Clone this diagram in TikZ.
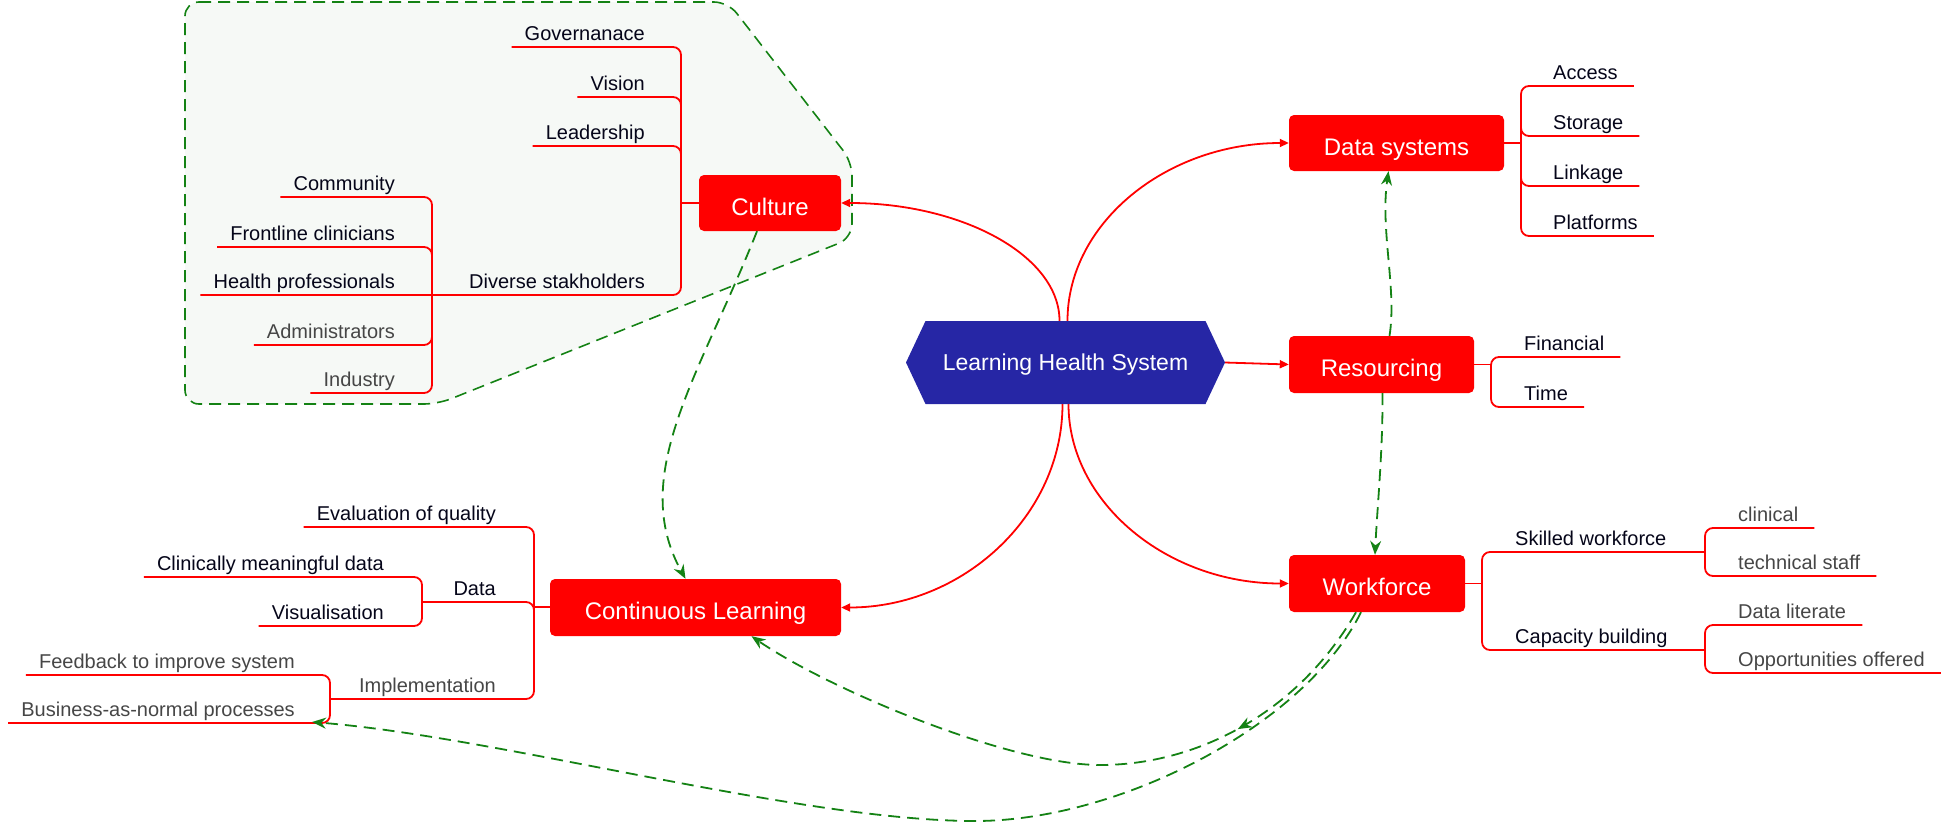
\documentclass[tikz,border=0pt]{standalone}
\usepackage{fontspec}
\setmainfont{Liberation Sans}
\usetikzlibrary{arrows.meta,calc,decorations.markings}
\definecolor{boxred}{RGB}{255,0,0}
\definecolor{hexblue}{RGB}{38,38,165}
\definecolor{dgreen}{RGB}{20,130,20}
\definecolor{regionfill}{RGB}{246,249,246}
\definecolor{leafblack}{RGB}{5,5,25}
\definecolor{leafgray}{RGB}{70,70,70}
\begin{document}
\begin{tikzpicture}[x=1pt,y=-1pt,
  box/.style={fill=boxred, rounded corners=5pt, text=white, font=\fontsize{24}{28}\selectfont, minimum height=56pt, inner sep=0pt, text height=24pt, text depth=0pt},
  leaf/.style={inner sep=0pt, text=leafblack, font=\fontsize{20}{24}\selectfont},
  leafg/.style={leaf, text=leafgray},
  br/.style={draw=boxred, line width=1.8pt, rounded corners=8pt},
  link/.style={draw=boxred, line width=1.8pt, -{Triangle[length=9pt,width=8pt]}},
  gdash/.style={draw=dgreen, line width=1.8pt, dash pattern=on 12pt off 7pt, -{Stealth[length=14pt,width=11pt]}},
]
\useasboundingbox (0,0) rectangle (1946,825);

% culture region
\draw[dgreen, line width=1.6pt, dash pattern=on 12pt off 7pt, fill=regionfill, rounded corners=14pt]
  (185,2) -- (728,2) -- (852,162) -- (852,238) -- (438,404) -- (185,404) -- cycle;

% central hexagon
\fill[hexblue] (906,362.5) -- (925.5,321) -- (1205.5,321) -- (1225,362.5) -- (1205.5,404) -- (925.5,404) -- cycle;
\node[text=white, font=\fontsize{23}{27}\selectfont, minimum width=280pt, minimum height=83pt, inner sep=0pt, text height=18pt, text depth=2pt] (lhs) at (1065.5,362.5) {Learning Health System};
\coordinate (lhsE) at (1225,362.5);

% ---------- leaves: Culture ----------
\node[leaf, anchor=base east] (gov) at (645,40) {Governanace};
\node[leaf, anchor=base east] (vis) at (645,90) {Vision};
\node[leaf, anchor=base east] (lead) at (645,139) {Leadership};
\node[leaf, anchor=base east] (divs) at (645,288) {Diverse stakholders};
\node[leaf, anchor=base east] (com) at (395,190) {Community};
\node[leaf, anchor=base east] (fro) at (395,240) {Frontline clinicians};
\node[leaf, anchor=base east] (hp) at (395,288) {Health professionals};
\node[leafg, anchor=base east] (adm) at (395,338) {Administrators};
\node[leafg, anchor=base east] (ind) at (395,386) {Industry};

% ---------- leaves: Continuous Learning ----------
\node[leaf, anchor=base east] (eva) at (496,520) {Evaluation of quality};
\node[leaf, anchor=base east] (dat) at (496,595) {Data};
\node[leafg, anchor=base east] (imp) at (496,692) {Implementation};
\node[leaf, anchor=base east] (cmd) at (384,570) {Clinically meaningful data};
\node[leaf, anchor=base east] (visu) at (384,619) {Visualisation};
\node[leafg, anchor=base east] (fb) at (295,668) {Feedback to improve system};
\node[leafg, anchor=base east] (bnp) at (295,716) {Business-as-normal processes};

% ---------- leaves: Data systems ----------
\node[leaf, anchor=base west] (acc) at (1553,79) {Access};
\node[leaf, anchor=base west] (sto) at (1553,129) {Storage};
\node[leaf, anchor=base west] (lnk) at (1553,179) {Linkage};
\node[leaf, anchor=base west] (pla) at (1553,229) {Platforms};

% ---------- leaves: Resourcing ----------
\node[leaf, anchor=base west] (fin) at (1524,350) {Financial};
\node[leaf, anchor=base west] (tim) at (1524,400) {Time};

% ---------- leaves: Workforce ----------
\node[leaf, anchor=base west] (skw) at (1515,545) {Skilled workforce};
\node[leaf, anchor=base west] (cap) at (1515,643) {Capacity building};
\node[leafg, anchor=base west] (cli) at (1738,521) {clinical};
\node[leafg, anchor=base west] (tec) at (1738,569) {technical staff};
\node[leafg, anchor=base west] (dli) at (1738,618) {Data literate};
\node[leafg, anchor=base west] (opp) at (1738,666) {Opportunities offered};

% ---------- branch lines ----------
% Culture
\draw[br] ($(gov.base west)+(-13,7)$) -- (681,47) -- (681,295) -- ($(hp.base west)+(-13,7)$);
\draw[br] ($(vis.base west)+(-13,7)$) -- (681,97) -- (681,107);
\draw[br] ($(lead.base west)+(-13,7)$) -- (681,146) -- (681,156);
\draw[br] (699,203) -- (681,203);
\draw[br] ($(com.base west)+(-13,7)$) -- (432,197) -- (432,393) -- ($(ind.base west)+(-13,7)$);
\draw[br] ($(fro.base west)+(-13,7)$) -- (432,247) -- (432,257);
\draw[br] ($(adm.base west)+(-13,7)$) -- (432,345) -- (432,335);
% Continuous Learning
\draw[br] ($(eva.base west)+(-13,7)$) -- (534,527) -- (534,699) -- (330,699);
\draw[br] (552,607) -- (534,607);
\draw[br] (422,602) -- (534,602) -- (534,612);
\draw[br] ($(cmd.base west)+(-13,7)$) -- (422,577) -- (422,626) -- ($(visu.base west)+(-13,7)$);
\draw[br] ($(fb.base west)+(-13,7)$) -- (330,675) -- (330,723) -- ($(bnp.base west)+(-13,7)$);
% Data systems
\draw[br] ($(acc.base east)+(16,7)$) -- (1521,86) -- (1521,236) -- ($(pla.base east)+(16,7)$);
\draw[br] (1502,143) -- (1521,143);
\draw[br] (1521,126) -- (1521,136) -- ($(sto.base east)+(16,7)$);
\draw[br] (1521,176) -- (1521,186) -- ($(lnk.base east)+(16,7)$);
% Resourcing
\draw[br] ($(fin.base east)+(16,7)$) -- (1491,357) -- (1491,407) -- ($(tim.base east)+(16,7)$);
\draw[br] (1472,364.5) -- (1491,364.5);
% Workforce
\draw[br] (1705,552) -- (1482,552) -- (1482,650) -- (1705,650);
\draw[br] (1463,583.5) -- (1482,583.5);
\draw[br] ($(cli.base east)+(16,7)$) -- (1705,528) -- (1705,576) -- ($(tec.base east)+(16,7)$);
\draw[br] ($(dli.base east)+(16,7)$) -- (1705,625) -- (1705,673) -- ($(opp.base east)+(16,7)$);

% ---------- red boxes ----------
\node[box, minimum width=142pt] (cul) at (770,203) {Culture};
\node[box, minimum width=215pt] (dsy) at (1396.5,143) {Data systems};
\node[box, minimum width=185pt, minimum height=57pt] (res) at (1381.5,364.5) {Resourcing};
\node[box, minimum width=176pt, minimum height=57pt] (wf) at (1377,583.5) {Workforce};
\node[box, minimum width=291pt, minimum height=57pt] (cl) at (695.5,607.5) {Continuous Learning};

% ---------- red connectors from centre ----------
\draw[link] ([xshift=-6pt]lhs.north) .. controls +(0,-65) and +(121,0) .. (cul.east);
\draw[link] ([xshift=2pt]lhs.north) .. controls +(0,-98) and +(-122,0) .. (dsy.west);
\draw[link] (lhsE) -- (res.west);
\draw[link] ([xshift=-3pt]lhs.south) .. controls +(0,112) and +(121,0) .. (cl.east);
\draw[link] ([xshift=3pt]lhs.south) .. controls +(0,98) and +(-122,0) .. (wf.west);

% ---------- green dashed connectors ----------
\coordinate (bnpE) at (312,722);
\draw[gdash] ([xshift=-13pt]cul.south) .. controls (700,375) and (628,475) .. ([xshift=-10pt]cl.north);
\draw[gdash] ([xshift=8pt]res.north) .. controls (1397,290) and (1380,230) .. ([xshift=-8pt]dsy.south);
\draw[gdash] ([xshift=1pt]res.south) .. controls (1383,450) and (1377,510) .. ([xshift=-2pt]wf.north);
\draw[gdash, postaction={decorate, decoration={markings, mark=at position 0.245 with {\arrow[dgreen]{Stealth[length=14pt,width=11pt]}}}}]
  ([xshift=-21pt]wf.south) .. controls (1300,710) and (1200,765) .. (1100,765)
  .. controls (1010,765) and (830,690) .. ([xshift=56pt]cl.south);
\draw[gdash] ([xshift=-16pt]wf.south) .. controls (1305,725) and (1120,821) .. (975,821)
  .. controls (800,821) and (500,737) .. (bnpE);
\end{tikzpicture}
\end{document}
